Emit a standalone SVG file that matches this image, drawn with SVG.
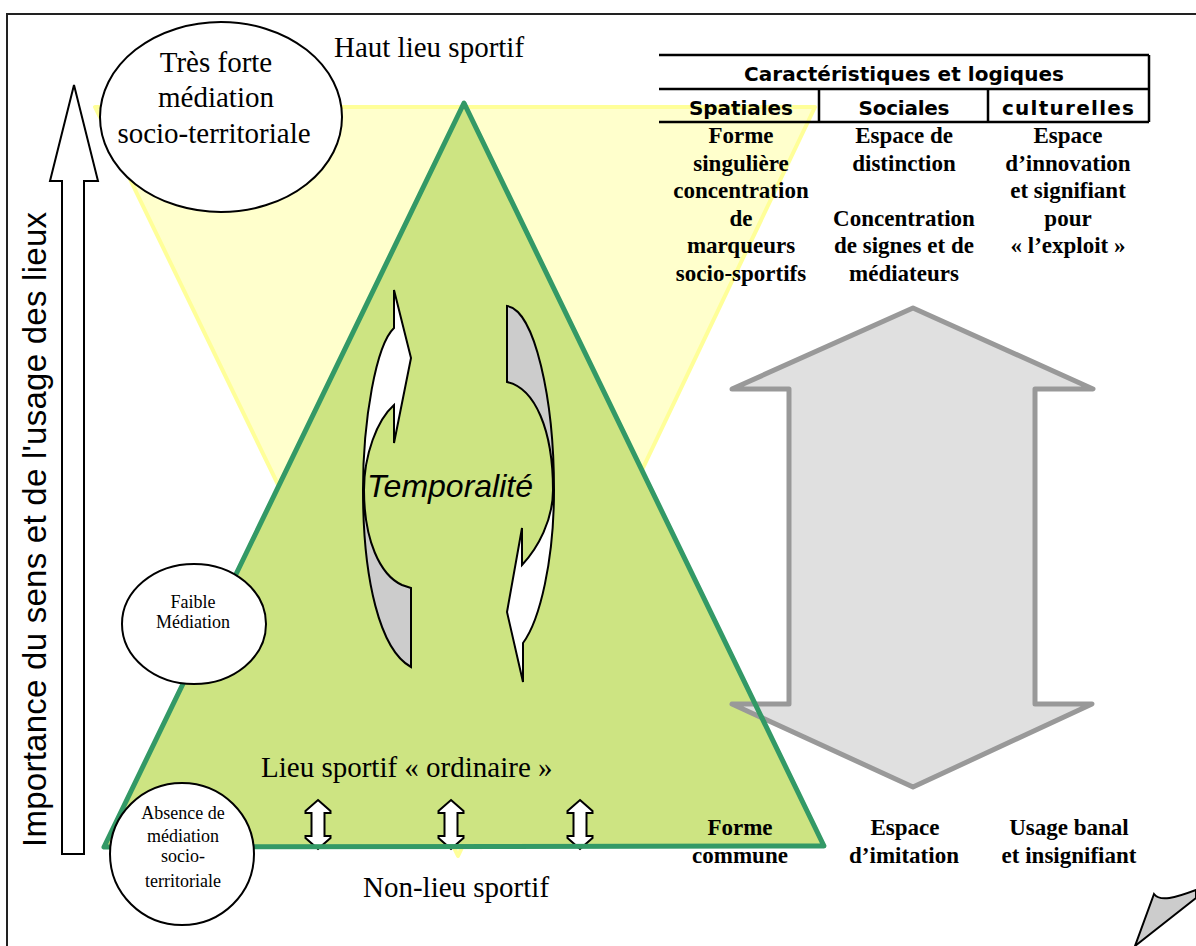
<svg xmlns="http://www.w3.org/2000/svg" width="1196" height="946" viewBox="0 0 1196 946">
<style>
.serif{font-family:"Liberation Serif","Times New Roman",serif;fill:#000}
.big{font-size:29px}
.small{font-size:18px}
.tb{font-family:"Liberation Serif","Times New Roman",serif;font-size:23px;font-weight:bold;text-anchor:middle;fill:#000}
.hd{font-family:"DejaVu Sans",Verdana,sans-serif;font-weight:bold;font-size:20px;text-anchor:middle;fill:#000}
.mid{text-anchor:middle}
.bubble{fill:#fff;stroke:#000;stroke-width:2}
.tline{stroke:#000;stroke-width:2.5;fill:none}
.outl{stroke:#000;stroke-width:2;stroke-linejoin:miter}
</style>
<defs>
<path id="dbl" d="M0,0 L12.5,11 L12.5,13 L6.5,13 L6.5,36 L12.5,36 L12.5,38 L0,49 L-12.5,38 L-12.5,36 L-6.5,36 L-6.5,13 L-12.5,13 L-12.5,11 Z" fill="#fff" stroke="#000" stroke-width="2" stroke-linejoin="miter"/>
</defs>
<rect x="0" y="0" width="1196" height="946" fill="#fff"/>
<!-- frame -->
<path d="M7,946 L7,14 L1196,14" fill="none" stroke="#222" stroke-width="2"/>

<g id="inverted-triangle">
<polygon points="95,107 815,107 458,856" fill="#ffffcc" stroke="#ffff99" stroke-width="4" stroke-linejoin="round"/>
</g>

<g id="pyramid">
<polygon points="464,103 104,847 824,846" fill="#cde482"/>
</g>

<g id="connectors">
<!-- left vertical axis arrow -->
<polygon class="outl" points="74,85 98,181 84,181 84,854 62,854 62,181 50,181" fill="#fff"/>
<!-- big grey double arrow -->
<polygon points="913,308 1093,389 1035,389 1035,704 1092,704 913,787 732,704 789,704 789,389 732,389" fill="#e0e0e0" stroke="#999" stroke-width="5" stroke-linejoin="round"/>
<!-- small double arrows -->
<use href="#dbl" x="318" y="800"/>
<use href="#dbl" x="451" y="800"/>
<use href="#dbl" x="580" y="800"/>
</g>

<g id="pyramid-outline">
<polygon points="464,103 104,847 824,846" fill="none" stroke="#339966" stroke-width="5" stroke-linejoin="round"/>
</g>

<g id="temporalite">
<path class="outl" fill="#fff" d="M394,290 L411,358 L394,443 L394,405 C377,420 364,455 364,490 L363,490 C363,420 376,345 394,328 Z"/>
<path class="outl" fill="#cccccc" d="M363,490 C363,580 380,650 411,667 L411,588 L402,585 C380,575 364,540 364,490 Z"/>
<path class="outl" fill="#cccccc" d="M507,306 C535,310 554,400 554,490 L553,490 C553,430 535,388 507,382 Z"/>
<path class="outl" fill="#fff" d="M554,490 C554,560 540,620 523,643 L523,682 L507,612 L522,528 L522,565 C538,548 553,520 553,490 Z"/>
<text x="367" y="497" font-family="Liberation Sans, Arial, sans-serif" font-style="italic" font-size="32" fill="#000">Temporalité</text>
</g>

<g id="axis-label">
<text transform="translate(46,847) rotate(-90)" font-family="Liberation Sans, Arial, sans-serif" font-size="33" fill="#000" textLength="635" lengthAdjust="spacing">Importance du sens et de l'usage des lieux</text>
</g>

<g id="tres-forte">
<ellipse class="bubble" cx="221" cy="117" rx="121" ry="95"/>
<text class="serif big mid" x="216" y="72">Très forte</text>
<text class="serif big mid" x="216" y="107">médiation</text>
<text class="serif big mid" x="214" y="143">socio-territoriale</text>
</g>

<g id="faible">
<ellipse class="bubble" cx="194" cy="624" rx="72" ry="60"/>
<text class="serif small mid" x="193" y="608">Faible</text>
<text class="serif small mid" x="193" y="628">Médiation</text>
</g>

<g id="absence">
<ellipse class="bubble" cx="182" cy="854" rx="72" ry="71"/>
<text class="serif small mid" x="183" y="819">Absence de</text>
<text class="serif small mid" x="183" y="842">médiation</text>
<text class="serif small mid" x="183" y="862">socio-</text>
<text class="serif small mid" x="183" y="887">territoriale</text>
</g>

<g id="labels">
<text class="serif big" x="334" y="57">Haut lieu sportif</text>
<text class="serif big" x="261" y="777">Lieu sportif « ordinaire »</text>
<text class="serif big" x="363" y="897">Non-lieu sportif</text>
</g>

<g id="table">
<path class="tline" d="M659,55 L1149,55 M659,89 L1149,89 M659,122 L1149,122 M1149,55 L1149,122 M819,89 L819,122 M988,89 L988,122"/>
<text class="hd" x="904" y="81" font-size="18" textLength="320">Caractéristiques et logiques</text>
<text class="hd" x="741" y="115" textLength="104">Spatiales</text>
<text class="hd" x="904" y="115" textLength="91">Sociales</text>
<text class="hd" x="1068" y="115" font-size="21" font-weight="normal" textLength="132">culturelles</text>
<text class="tb" x="741" y="143">Forme</text>
<text class="tb" x="741" y="170.6">singulière</text>
<text class="tb" x="741" y="198.2">concentration</text>
<text class="tb" x="741" y="225.8">de</text>
<text class="tb" x="741" y="253.4">marqueurs</text>
<text class="tb" x="741" y="281">socio-sportifs</text>
<text class="tb" x="904" y="143">Espace de</text>
<text class="tb" x="904" y="170.6">distinction</text>
<text class="tb" x="904" y="225.8">Concentration</text>
<text class="tb" x="904" y="253.4">de signes et de</text>
<text class="tb" x="904" y="281">médiateurs</text>
<text class="tb" x="1068" y="143">Espace</text>
<text class="tb" x="1068" y="170.6">d’innovation</text>
<text class="tb" x="1068" y="198.2">et signifiant</text>
<text class="tb" x="1068" y="225.8">pour</text>
<text class="tb" x="1068" y="253.4">« l’exploit »</text>
</g>

<g id="bottom-labels">
<text class="tb" x="740" y="835">Forme</text>
<text class="tb" x="740" y="863">commune</text>
<text class="tb" x="905" y="835">Espace</text>
<text class="tb" x="904" y="863">d’imitation</text>
<text class="tb" x="1069" y="835">Usage banal</text>
<text class="tb" x="1069" y="863">et insignifiant</text>
</g>

<g id="corner-shape">
<path d="M1154,894 C1160,902 1175,898 1196,890 L1196,898 L1135,946 Z" fill="#cccccc" stroke="#000" stroke-width="2" stroke-linejoin="miter"/>
</g>
</svg>
